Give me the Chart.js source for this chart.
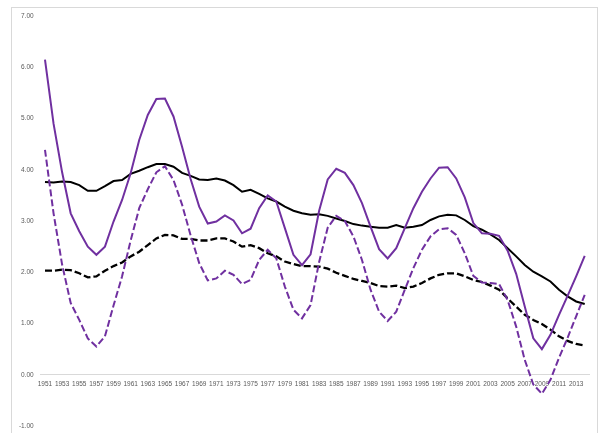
<!DOCTYPE html>
<html>
<head>
<meta charset="utf-8">
<script src="https://cdn.jsdelivr.net/npm/chart.js@4/dist/chart.umd.min.js"></script>
<style>
  html, body { margin: 0; padding: 0; background: #fff; }
  #wrap { position: relative; width: 603px; height: 433px; }
  #frame { position: absolute; left: 11px; top: 7px; width: 587px; height: 440px; border: 1px solid #d9d9d9; box-sizing: border-box; }
  canvas { position: absolute; left: 0; top: 0; }
</style>
</head>
<body>
<div id="wrap">
  <div id="frame"></div>
  <canvas id="grafico" width="603" height="433"></canvas>
</div>
<script>
// años 1951-2014
const anios = [];
for (let a = 1951; a <= 2014; a++) anios.push(String(a));

// serie morada continua
const moradaLinea = [
  6.15, 4.90, 3.95, 3.15, 2.80, 2.50, 2.34, 2.50, 2.99, 3.41,
  3.93, 4.58, 5.07, 5.38, 5.39, 5.04, 4.45, 3.82, 3.28, 2.95,
  2.99, 3.11, 3.01, 2.76, 2.85, 3.25, 3.50, 3.38, 2.86, 2.34,
  2.14, 2.35, 3.20, 3.81, 4.02, 3.94, 3.70, 3.35, 2.89, 2.45,
  2.27, 2.47, 2.86, 3.25, 3.57, 3.83, 4.04, 4.05, 3.83, 3.46,
  2.96, 2.76, 2.75, 2.71, 2.42, 1.97, 1.33, 0.71, 0.50, 0.78,
  1.17, 1.54, 1.92, 2.32
];

// serie morada discontinua
const moradaGuiones = [
  4.39, 3.15, 2.15, 1.40, 1.07, 0.71, 0.55, 0.75, 1.35, 1.92,
  2.62, 3.25, 3.62, 3.95, 4.07, 3.80, 3.32, 2.72, 2.18, 1.84,
  1.88, 2.03, 1.95, 1.77, 1.85, 2.24, 2.44, 2.27, 1.72, 1.27,
  1.10, 1.36, 2.20, 2.87, 3.10, 3.00, 2.70, 2.24, 1.66, 1.23,
  1.05, 1.23, 1.66, 2.08, 2.44, 2.70, 2.84, 2.86, 2.73, 2.37,
  1.93, 1.80, 1.79, 1.77, 1.46, 0.94, 0.29, -0.19, -0.37, -0.10,
  0.33, 0.72, 1.14, 1.56
];

// serie negra continua
const negraLinea = [
  3.76, 3.75, 3.77, 3.76, 3.70, 3.59, 3.59, 3.68, 3.78, 3.80,
  3.92, 3.98, 4.05, 4.11, 4.11, 4.06, 3.94, 3.88, 3.81, 3.80,
  3.83, 3.79, 3.70, 3.57, 3.61, 3.53, 3.44, 3.38, 3.28, 3.20,
  3.15, 3.12, 3.13, 3.10, 3.05, 3.00, 2.94, 2.91, 2.89, 2.87,
  2.87, 2.92, 2.87, 2.89, 2.92, 3.02, 3.09, 3.12, 3.11, 3.02,
  2.90, 2.83, 2.74, 2.63, 2.47, 2.31, 2.14, 2.01, 1.92, 1.82,
  1.66, 1.53, 1.43, 1.38
];

// serie negra discontinua
const negraGuiones = [
  2.03, 2.03, 2.05, 2.04, 1.98, 1.90, 1.92, 2.03, 2.12, 2.19,
  2.31, 2.40, 2.53, 2.66, 2.73, 2.72, 2.65, 2.65, 2.62, 2.62,
  2.66, 2.66, 2.60, 2.50, 2.53, 2.47, 2.37, 2.31, 2.21, 2.16,
  2.12, 2.12, 2.11, 2.07, 1.99, 1.93, 1.87, 1.83, 1.79, 1.73,
  1.72, 1.74, 1.69, 1.72, 1.79, 1.88, 1.95, 1.98, 1.98, 1.92,
  1.85, 1.81, 1.74, 1.66, 1.49, 1.33, 1.17, 1.07, 0.99, 0.88,
  0.75, 0.66, 0.60, 0.57
];

const MORADO = '#7030a0';
const fuente = { family: 'Liberation Sans', size: 6.5 };

const ctx = document.getElementById('grafico').getContext('2d');
new Chart(ctx, {
  type: 'line',
  data: {
    labels: anios,
    datasets: [
      { label: 'morada', data: moradaLinea, borderColor: MORADO, borderWidth: 2 },
      { label: 'morada guiones', data: moradaGuiones, borderColor: MORADO, borderWidth: 2, borderDash: [7, 3] },
      { label: 'negra', data: negraLinea, borderColor: '#000', borderWidth: 2 },
      { label: 'negra guiones', data: negraGuiones, borderColor: '#000', borderWidth: 2.3, borderDash: [7, 3] }
    ]
  },
  options: {
    responsive: false,
    animation: false,
    devicePixelRatio: 1,
    elements: { point: { radius: 0 }, line: { tension: 0, fill: false } },
    layout: { padding: { left: 0, right: 14, top: 16, bottom: 7 } },
    plugins: { legend: { display: false }, tooltip: { enabled: false } },
    scales: {
      x: {
        position: { y: 0 },
        offset: true,
        grid: { display: false, drawTicks: false },
        border: { display: true, color: '#d9d9d9', width: 1 },
        ticks: {
          autoSkip: false,
          maxRotation: 0,
          minRotation: 0,
          padding: 6,
          color: '#595959',
          font: fuente,
          callback: (v, i) => (i % 2 === 0 ? anios[i] : '')
        },
        afterFit: s => {
          s.height = 0;
          s.paddingTop = 0; s.paddingBottom = 0;
          s.paddingLeft = 0; s.paddingRight = 0;
        }
      },
      y: {
        min: -1,
        max: 7,
        grid: { display: false, drawTicks: false },
        border: { display: false },
        ticks: {
          stepSize: 1,
          padding: 7,
          color: '#595959',
          font: fuente,
          callback: v => v.toFixed(2)
        },
        afterFit: s => {
          s.width = 40.7;
          s.paddingTop = 0; s.paddingBottom = 0;
        }
      }
    }
  }
});
</script>
</body>
</html>
